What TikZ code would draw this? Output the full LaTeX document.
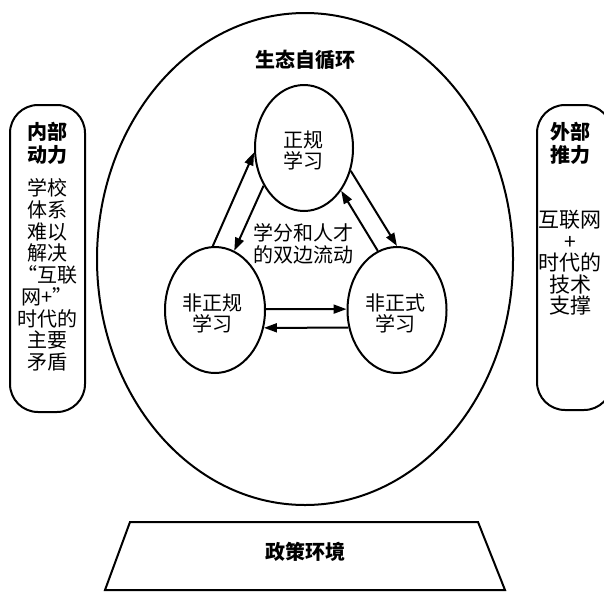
\documentclass[tikz,border=0pt]{standalone}
\usepackage{fontspec}
\setmainfont{Noto Sans CJK SC}
\usetikzlibrary{shapes.geometric,arrows.meta}
\tikzset{
  ln/.style={line width=2pt, black},
  oval/.style={ln, draw, ellipse, minimum width=100pt, minimum height=126pt, inner sep=0pt},
  txt/.style={align=center, font=\fontsize{20}{21}\selectfont, inner sep=0pt},
  btxt/.style={align=center, font=\fontsize{20}{23}\selectfont\bfseries, inner sep=0pt},
  arr/.style={ln, -{Triangle[length=13pt,width=9pt]}},
  pill/.style={ln, draw, rounded corners=28pt}
}
\begin{document}
\begin{tikzpicture}[x=1pt,y=-1pt]
\useasboundingbox (0,0) rectangle (604,592);
\clip (0,0) rectangle (604,592);
% outer ellipse
\node[ln, draw, ellipse, minimum width=416pt, minimum height=492pt, inner sep=0pt] (outer) at (305,259) {};
\node[btxt] (title) at (305,60) {生态自循环};
% side pills
\draw[pill] (10,105) rectangle (85,412);
\node[btxt] (lhead) at (47,143) {内部\\动力};
\node[txt, font=\fontsize{20}{21.7}\selectfont] (lbody) at (47,275) {学校\\体系\\难以\\解决\\“互联\\网+”\\时代的\\主要\\矛盾};
\draw[pill] (537,105) rectangle (612,410);
\node[btxt] (rhead) at (570,143) {外部\\推力};
\node[txt, font=\fontsize{21}{21.5}\selectfont] (rbody) at (570,263) {互联网\\+\\时代的\\技术\\支撑};
% inner ellipses
\node[oval, minimum width=98pt] (T) at (304,148) {};
\node[oval] (L) at (215,310) {};
\node[oval, minimum width=99pt] (R) at (397,310) {};
\node[txt] (Tt) at (303,150) {正规\\学习};
\node[txt] (Lt) at (212,313) {非正规\\学习};
\node[txt] (Rt) at (395,313) {非正式\\学习};
\node[txt, font=\fontsize{20}{22}\selectfont] (mid) at (303,244) {学分和人才\\的双边流动};
% arrows
\draw[arr] (L.92) -- (T.185);
\draw[arr] (T.223) -- (L.72);
\draw[arr] (T.334) -- (R.90);
\draw[arr] (R.108) -- (T.311);
\draw[arr] (L.1) -- (R.179);
\draw[arr] (R.200) -- (L.340);
% policy trapezoid
\coordinate (p1) at (130,522);
\coordinate (p2) at (478,522);
\coordinate (p3) at (505,590);
\coordinate (p4) at (105,590);
\draw[ln, line join=miter] (p1) -- (p2) -- (p3) -- (p4) -- cycle;
\node[btxt] (policy) at (305,552) {政策环境};
\end{tikzpicture}
\end{document}
